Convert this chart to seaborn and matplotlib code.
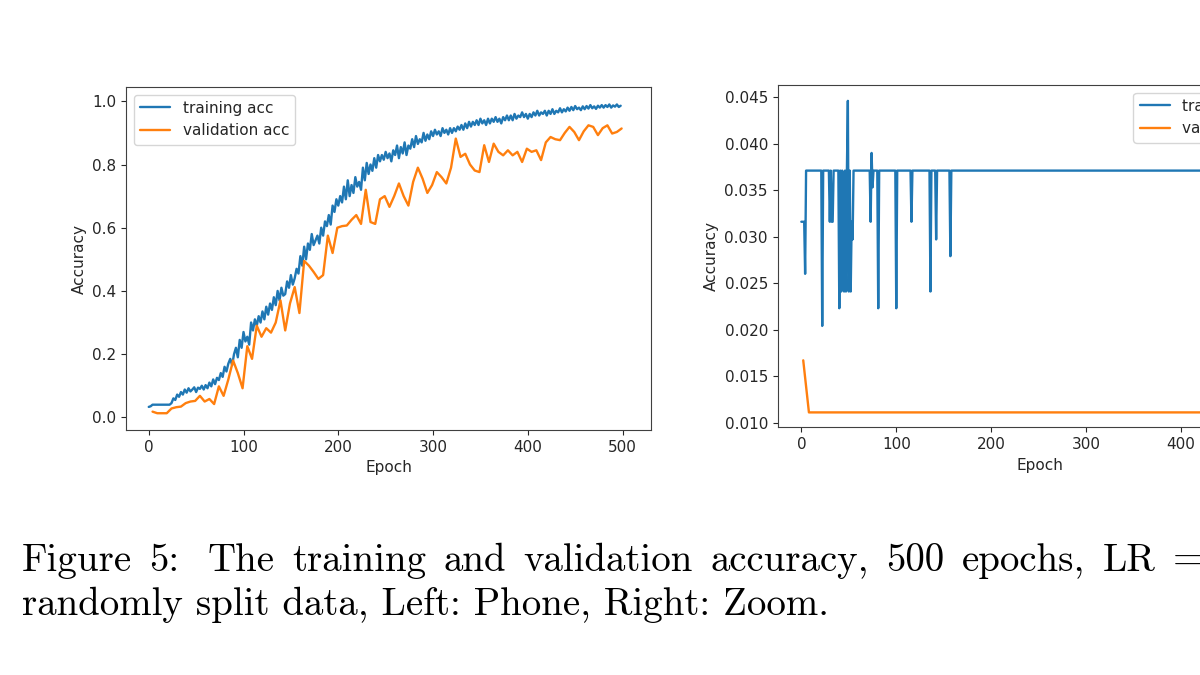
import numpy as np
import seaborn as sns
import matplotlib.pyplot as plt

# ---- data: left panel (Phone), 500 epochs ----
# training accuracy, read every 2 epochs
phone_train_epochs = np.arange(0, 500, 2)
phone_train_acc = [
    0.033, 0.035, 0.04, 0.04, 0.04, 0.04, 0.04, 0.04, 0.04, 0.04,
    0.04, 0.04, 0.045, 0.06, 0.055, 0.072, 0.065, 0.08, 0.072, 0.088,
    0.078, 0.092, 0.082, 0.088, 0.095, 0.08, 0.094, 0.09, 0.1, 0.088,
    0.102, 0.092, 0.11, 0.098, 0.12, 0.105, 0.125, 0.118, 0.14, 0.128,
    0.16, 0.145, 0.17, 0.185, 0.165, 0.2, 0.22, 0.19, 0.245, 0.22,
    0.27, 0.24, 0.255, 0.23, 0.3, 0.275, 0.31, 0.29, 0.32, 0.30,
    0.335, 0.31, 0.35, 0.325, 0.36, 0.34, 0.38, 0.355, 0.40, 0.37,
    0.41, 0.385, 0.39, 0.43, 0.41, 0.45, 0.42, 0.44, 0.47, 0.455,
    0.51, 0.48, 0.54, 0.5, 0.55, 0.53, 0.58, 0.545, 0.56, 0.575,
    0.55, 0.6, 0.575, 0.62, 0.605, 0.64, 0.61, 0.67, 0.65, 0.69,
    0.67, 0.70, 0.68, 0.73, 0.69, 0.75, 0.7, 0.735, 0.71, 0.76,
    0.73, 0.745, 0.72, 0.79, 0.75, 0.805, 0.77, 0.8, 0.78, 0.82,
    0.79, 0.83, 0.81, 0.83, 0.815, 0.84, 0.82, 0.835, 0.81, 0.845,
    0.83, 0.86, 0.82, 0.855, 0.835, 0.87, 0.83, 0.86, 0.85, 0.88,
    0.855, 0.89, 0.865, 0.88, 0.87, 0.9, 0.875, 0.895, 0.88, 0.905,
    0.89, 0.91, 0.895, 0.905, 0.89, 0.915, 0.9, 0.91, 0.895, 0.915,
    0.9, 0.915, 0.905, 0.92, 0.91, 0.925, 0.91, 0.93, 0.915, 0.935,
    0.92, 0.935, 0.925, 0.94, 0.925, 0.945, 0.93, 0.94, 0.925, 0.945,
    0.93, 0.945, 0.935, 0.95, 0.935, 0.945, 0.93, 0.95, 0.94, 0.955,
    0.94, 0.955, 0.94, 0.96, 0.945, 0.955, 0.95, 0.965, 0.95, 0.96,
    0.945, 0.96, 0.95, 0.965, 0.955, 0.97, 0.955, 0.965, 0.96, 0.97,
    0.955, 0.97, 0.96, 0.975, 0.96, 0.97, 0.965, 0.978, 0.965, 0.975,
    0.968, 0.98, 0.97, 0.982, 0.972, 0.985, 0.975, 0.98, 0.972, 0.984,
    0.975, 0.985, 0.977, 0.988, 0.978, 0.984, 0.976, 0.986, 0.98, 0.988,
    0.98, 0.988, 0.982, 0.99, 0.98, 0.987, 0.983, 0.99, 0.982, 0.986,
]

# validation accuracy, every 5 epochs
phone_val_epochs = np.arange(4, 500, 5)
phone_val_acc = [
    0.018, 0.013, 0.013, 0.013, 0.028, 0.032, 0.034, 0.045, 0.050, 0.052,
    0.068, 0.050, 0.058, 0.042, 0.098, 0.068, 0.120, 0.180, 0.140, 0.092,
    0.225, 0.185, 0.290, 0.255, 0.282, 0.268, 0.300, 0.370, 0.275, 0.360,
    0.412, 0.330, 0.495, 0.480, 0.460, 0.438, 0.450, 0.575, 0.520, 0.600,
    0.605, 0.607, 0.625, 0.640, 0.612, 0.720, 0.618, 0.612, 0.690, 0.700,
    0.666, 0.700, 0.740, 0.700, 0.670, 0.745, 0.790, 0.755, 0.710, 0.735,
    0.776, 0.760, 0.740, 0.790, 0.882, 0.824, 0.834, 0.800, 0.781, 0.776,
    0.861, 0.808, 0.866, 0.840, 0.829, 0.845, 0.829, 0.840, 0.808, 0.850,
    0.840, 0.845, 0.814, 0.870, 0.887, 0.880, 0.877, 0.900, 0.919, 0.903,
    0.877, 0.905, 0.924, 0.919, 0.893, 0.915, 0.924, 0.898, 0.903, 0.914,
]

# ---- data: right panel (Zoom) ----
# training accuracy sits on 0.0371 with short dips/spikes (vertices of the line)
zoom_train_epochs = [
    0, 3, 4, 5, 21, 22, 23, 29, 30, 31, 32, 33, 34,
    39, 40, 41, 42, 43, 44, 45, 46, 47, 48, 49, 50, 51, 52, 53, 54, 55,
    72, 73, 74, 75, 76, 80, 81, 82, 99, 100, 101, 115, 116, 117,
    135, 136, 137, 141, 142, 143, 156, 157, 158, 499,
]
zoom_train_acc = [
    0.0316, 0.0316, 0.0260, 0.0371, 0.0371, 0.0204, 0.0371, 0.0371, 0.0316, 0.0371, 0.0316, 0.0316, 0.0371,
    0.0371, 0.0223, 0.0371, 0.0241, 0.0371, 0.0260, 0.0241, 0.0371, 0.0241, 0.0371, 0.0446, 0.0241, 0.0371,
    0.0241, 0.0316, 0.0297, 0.0371,
    0.0371, 0.0316, 0.0390, 0.0353, 0.0371, 0.0371, 0.0223, 0.0371, 0.0371, 0.0223, 0.0371, 0.0371, 0.0316, 0.0371,
    0.0371, 0.0241, 0.0371, 0.0371, 0.0297, 0.0371, 0.0371, 0.0279, 0.0371, 0.0371,
]
zoom_val_epochs = [2, 8, 499]
zoom_val_acc = [0.0167, 0.0111, 0.0111]

# caption (first line is justified in the paper, second one is not)
caption_line1 = ["Figure", "5:", "The", "training", "and", "validation",
                 "accuracy,", "500", "epochs,", "LR", "="]
caption_line2 = "randomly split data, Left: Phone, Right: Zoom."

BLUE = "#1f77b4"
ORANGE = "#ff7f0e"

sns.set_style("ticks")
plt.rcParams["font.family"] = ["DejaVu Sans"]
plt.rcParams["font.size"] = 11

fig = plt.figure(figsize=(12, 6.75), dpi=100)
fig.patch.set_facecolor("white")

# left: Phone
ax1 = fig.add_axes([0.105, 0.363, 0.4375, 0.508])
sns.lineplot(x=phone_train_epochs, y=phone_train_acc, ax=ax1, color=BLUE,
             linewidth=1.7, label="training acc", estimator=None, sort=False)
sns.lineplot(x=phone_val_epochs, y=phone_val_acc, ax=ax1, color=ORANGE,
             linewidth=1.7, label="validation acc", estimator=None, sort=False)
ax1.set_xlim(-24, 530)
ax1.set_ylim(-0.04, 1.045)
ax1.set_xticks([0, 100, 200, 300, 400, 500])
ax1.set_yticks([0.0, 0.2, 0.4, 0.6, 0.8, 1.0])
ax1.set_xlabel("Epoch")
ax1.set_ylabel("Accuracy")
ax1.legend(loc="upper left", fontsize=11)

# right: Zoom (the panel runs off the page edge, as in the paper crop)
ax2 = fig.add_axes([0.648, 0.367, 0.4375, 0.507])
sns.lineplot(x=zoom_train_epochs, y=zoom_train_acc, ax=ax2, color=BLUE,
             linewidth=1.7, label="training acc", estimator=None, sort=False)
sns.lineplot(x=zoom_val_epochs, y=zoom_val_acc, ax=ax2, color=ORANGE,
             linewidth=1.7, label="validation acc", estimator=None, sort=False)
ax2.set_xlim(-25, 528)
ax2.set_ylim(0.0095, 0.0463)
ax2.set_xticks([0, 100, 200, 300, 400, 500])
ax2.set_yticks([0.010, 0.015, 0.020, 0.025, 0.030, 0.035, 0.040, 0.045])
ax2.set_xlabel("Epoch")
ax2.set_ylabel("Accuracy")
ax2.legend(loc="upper right", fontsize=11)

for ax in (ax1, ax2):
    for s in ax.spines.values():
        s.set_visible(True)
        s.set_color("0.25")

# caption text, Computer Modern look
cap_font = ["cmr10", "DejaVu Serif"]
cap_size = 28
W, H = 1200, 675

# line 1: measure each word, then spread them from x=22 to x=1203
renderer = fig.canvas.get_renderer()
words = [fig.text(0, 1 - 571 / H, w, fontsize=cap_size, family=cap_font,
                  color="black", va="baseline", ha="left") for w in caption_line1]
widths = [t.get_window_extent(renderer).width for t in words]
gap_weights = [1, 1.6, 1, 1, 1, 1, 1, 1, 1, 1]  # wider gap after "5:"
free = (1203 - 22) - sum(widths)
unit = free / sum(gap_weights)
x = 22
for i, t in enumerate(words):
    t.set_x(x / W)
    if i < len(gap_weights):
        x += widths[i] + unit * gap_weights[i]

# line 2: natural spacing
fig.text(22 / W, 1 - 615 / H, caption_line2, fontsize=cap_size, family=cap_font,
         color="black", va="baseline", ha="left")

fig.savefig("out.png", dpi=100)
